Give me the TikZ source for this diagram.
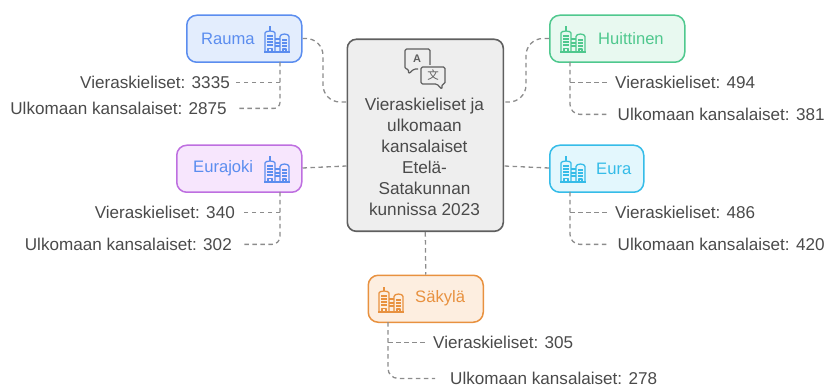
\documentclass[tikz,border=0pt]{standalone}
\usepackage{fontspec}
\setmainfont{Liberation Sans}
\newfontfamily\cjkfont{Noto Sans CJK SC}
\definecolor{txt}{HTML}{4A4A4A}
\definecolor{dashc}{HTML}{8C8C8C}
\definecolor{cblue}{HTML}{5B8DEF}
\definecolor{fblue}{HTML}{E3EDFD}
\definecolor{cgreen}{HTML}{4FC88E}
\definecolor{fgreen}{HTML}{E8F9F0}
\definecolor{cviol}{HTML}{BE6FE0}
\definecolor{fviol}{HTML}{F7E6FD}
\definecolor{ccyan}{HTML}{35BCE8}
\definecolor{fcyan}{HTML}{E3F7FD}
\definecolor{coran}{HTML}{E8913F}
\definecolor{foran}{HTML}{FDEEE0}
\definecolor{cgrey}{HTML}{5F5F5F}
\tikzset{
 x=1pt,y=-1pt,
 cityblock/.style={draw=#1,line width=1.3pt},
 lab/.style={font=\fontsize{17.1}{19}\selectfont,text=txt,inner sep=0pt},
 conn/.style={draw=dashc,line width=1.3pt,dash pattern=on 4.5pt off 3.5pt},
 pill/.style={rounded corners=10pt,line width=1.5pt,anchor=north west,inner sep=0pt,minimum height=47pt},
 pname/.style={font=\fontsize{16.6}{19}\selectfont,inner sep=0pt,anchor=west},
}
\newcommand{\citysign}[2]{%
 \begin{scope}[shift={(#1)},cityblock=#2,line join=round]
  \draw (0,26)--(26,26);
  \draw (1,26)--(1,7) arc[start angle=180,end angle=0,x radius=5,y radius=-2] --(11,26);
  \draw (6,5)--(6,0.5);
  \draw (11,13)--(16,13);
  \draw (16,26)--(16,10.5) arc[start angle=180,end angle=0,x radius=4.5,y radius=-2.5] --(25,26);
  \foreach \yy in {10,13,16,19}{\draw (3,\yy)--(9,\yy);}
  \foreach \yy in {14,17,20}{\draw (18,\yy)--(23,\yy);}
  \foreach \yy in {17,20}{\draw (11,\yy)--(16,\yy);}
  \draw (4,26)--(4,22.5)--(8,22.5)--(8,26);
  \draw (19,26)--(19,23)--(22,23)--(22,26);
 \end{scope}}
\begin{document}
\begin{tikzpicture}
\useasboundingbox (0,0) rectangle (824,387);
% central
\node[draw=cgrey,fill=black!6.5,rounded corners=9pt,line width=1.6pt,minimum width=156pt,minimum height=192pt,anchor=north west,inner sep=0pt] (ctr) at (346.5,38.5) {};
\node[font=\fontsize{17.2}{21}\selectfont,text=txt,align=center,anchor=north,inner sep=0pt] (ctrtxt) at (424.5,97.5) {Vieraskieliset ja\\ulkomaan\\kansalaiset\\Etelä-\\Satakunnan\\kunnissa 2023};
% translate icon
\begin{scope}[draw=cgrey,line width=1.2pt,line join=round]
 \draw[rounded corners=1.5pt] (430,65)--(430,49)--(405,49)--(405,69)--(408.5,69)--(408.5,74)--(414,69)--(418,69);
 \draw[rounded corners=1.5pt] (421,67)--(445,67)--(445,84)--(442,84)--(442,89.5)--(437,84)--(421,84)--cycle;
\end{scope}
\node[font=\fontsize{11}{11}\selectfont\bfseries,text=cgrey,inner sep=0pt] (ia) at (417,59) {A};
\node[font=\cjkfont\fontsize{11.5}{12}\selectfont,text=cgrey,inner sep=0pt] (ib) at (433,75.5) {文};
% pills
\node[pill,draw=cblue,fill=fblue,minimum width=115pt] (rauma) at (186,14.5) {};
\node[pill,draw=cgreen,fill=fgreen,minimum width=135pt] (huit) at (549,14.5) {};
\node[pill,draw=cviol,fill=fviol,minimum width=125pt] (eurj) at (176,144.5) {};
\node[pill,draw=ccyan,fill=fcyan,minimum width=94pt] (eura) at (549,144.5) {};
\node[pill,draw=coran,fill=foran,minimum width=115pt] (saky) at (367.5,274.5) {};
\node[pname,text=cblue] (t1) at (201,38.5) {Rauma};
\node[pname,text=cgreen] (t2) at (598,38.5) {Huittinen};
\node[pname,text=cblue] (t3) at (193,168.5) {Eurajoki};
\node[pname,text=ccyan] (t4) at (596,168.5) {Eura};
\node[pname,text=coran] (t5) at (415,298.5) {Säkylä};
\citysign{264,26}{cblue}
\citysign{560,26}{cgreen}
\citysign{264,156}{cblue}
\citysign{560,156}{ccyan}
\citysign{378,286}{coran}
% labels
\node[lab,anchor=east] (a1) at (230,82) {Vieraskieliset: 3335};
\node[lab,anchor=east] (a2) at (227,108) {Ulkomaan kansalaiset: 2875};
\node[lab,anchor=west] (b1) at (615,82) {Vieraskieliset: 494};
\node[lab,anchor=west] (b2) at (617.5,114) {Ulkomaan kansalaiset: 381};
\node[lab,anchor=east] (c1) at (235,212) {Vieraskieliset: 340};
\node[lab,anchor=east] (c2) at (232,244) {Ulkomaan kansalaiset: 302};
\node[lab,anchor=west] (d1) at (615,212) {Vieraskieliset: 486};
\node[lab,anchor=west] (d2) at (617.5,244) {Ulkomaan kansalaiset: 420};
\node[lab,anchor=west] (e1) at (433,342) {Vieraskieliset: 305};
\node[lab,anchor=west] (e2) at (450,378) {Ulkomaan kansalaiset: 278};
% coordinates for connector ends
\coordinate (ra) at (236,82.4);\coordinate (rb) at (238,108.4);
\coordinate (ba) at (607,82.4);\coordinate (bb) at (608,114.4);
\coordinate (ca) at (244,212.4);\coordinate (cb) at (242,244.4);
\coordinate (da) at (607,212.4);\coordinate (db) at (608,244.4);
\coordinate (ea) at (425,342.4);\coordinate (eb) at (435,378.4);
% connectors to centre
\draw[conn,rounded corners=17pt] (rauma.east |- 0,38.5) -- (323,38.5) -- (323,102) -- (ctr.west |- 0,102);
\draw[conn,rounded corners=17pt] (huit.west |- 0,38.5) -- (526,38.5) -- (526,102) -- (ctr.east |- 0,102);
\draw[conn] (eurj.east |- 0,168) -- (ctr.west |- 0,166);
\draw[conn] (eura.west |- 0,168) -- (ctr.east |- 0,166);
\draw[conn] (ctr.south) -- (saky.north);
% connectors to labels
\draw[conn,rounded corners=6pt] (280,62) -- (280,108.4) -- (rb);
\draw[conn] (280,82.4) -- (ra);
\draw[conn,rounded corners=10pt] (570,62) -- (570,114.4) -- (bb);
\draw[conn] (570,82.4) -- (ba);
\draw[conn,rounded corners=8pt] (280,192) -- (280,244.4) -- (cb);
\draw[conn] (280,212.4) -- (ca);
\draw[conn,rounded corners=10pt] (570,192) -- (570,244.4) -- (db);
\draw[conn] (570,212.4) -- (da);
\draw[conn,rounded corners=10pt] (388,322) -- (388,378.4) -- (eb);
\draw[conn] (388,342.4) -- (ea);
\end{tikzpicture}
\end{document}
